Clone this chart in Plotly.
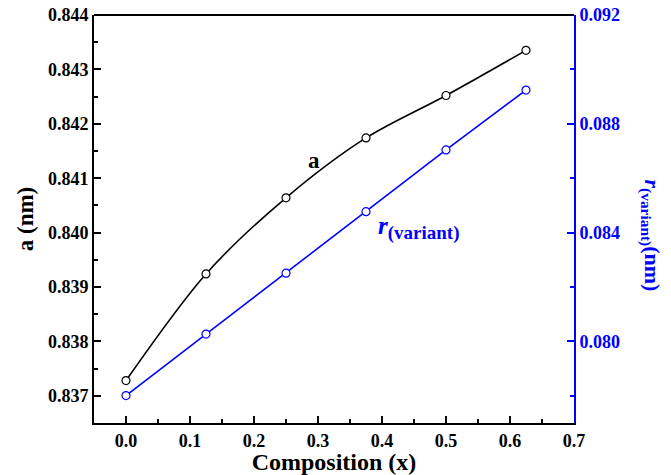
import plotly.graph_objects as go

composition = [0.0, 0.125, 0.25, 0.375, 0.5, 0.625]
lattice_a = [0.83728, 0.83924, 0.84064, 0.84174, 0.84252, 0.84335]
r_variant = [0.07801, 0.08027, 0.08251, 0.08477, 0.08704, 0.08924]

FONT = "Liberation Serif"
BLUE = "#0000ff"

fig = go.Figure()
fig.add_trace(go.Scatter(
    x=composition, y=lattice_a, mode="lines+markers",
    line=dict(color="black", width=1.6, shape="spline", smoothing=0.9),
    marker=dict(symbol="circle", size=8, color="white", line=dict(width=1.2, color="black")),
    showlegend=False, yaxis="y"))
fig.add_trace(go.Scatter(
    x=composition, y=r_variant, mode="lines+markers",
    line=dict(color=BLUE, width=1.6),
    marker=dict(symbol="circle", size=8, color="white", line=dict(width=1.2, color=BLUE)),
    showlegend=False, yaxis="y2"))

fig.update_layout(
    width=671, height=475,
    margin=dict(l=94, r=97, t=15, b=52),
    paper_bgcolor="white", plot_bgcolor="white",
    font=dict(family=FONT, size=18, color="black"),
    xaxis=dict(
        range=[-0.05, 0.7], dtick=0.1, tick0=0, tickformat=".1f",
        ticks="inside", ticklen=7, tickwidth=1.5, tickcolor="black",
        minor=dict(ticks="inside", ticklen=4, dtick=0.05, tickcolor="black", tickwidth=1.5),
        showline=True, linecolor="black", linewidth=2, mirror=False,
        showgrid=False, zeroline=False, automargin=False,
        tickfont=dict(family=FONT, size=18, color="black", weight="bold"),
        title=dict(text="<b>Composition (x)</b>", font=dict(family=FONT, size=24, color="black"), standoff=1),
    ),
    yaxis=dict(
        range=[0.8365, 0.844], dtick=0.001, tick0=0.837, tickformat=".3f",
        ticks="inside", ticklen=7, tickwidth=1.5, tickcolor="black",
        minor=dict(ticks="inside", ticklen=4, dtick=0.0005, tickcolor="black", tickwidth=1.5),
        showline=True, linecolor="black", linewidth=2,
        showgrid=False, zeroline=False, automargin=False,
        tickfont=dict(family=FONT, size=18, color="black", weight="bold"),
        title=dict(text="<b>a (nm)</b>", font=dict(family=FONT, size=23, color="black"), standoff=8),
    ),
    yaxis2=dict(
        overlaying="y", side="right",
        range=[0.077, 0.092], dtick=0.004, tick0=0.0, tickformat=".3f",
        ticks="inside", ticklen=7, tickwidth=1.5, tickcolor=BLUE,
        minor=dict(ticks="inside", ticklen=4, dtick=0.002, tickcolor=BLUE, tickwidth=1.5),
        showline=True, linecolor=BLUE, linewidth=2,
        showgrid=False, zeroline=False, automargin=False,
        tickfont=dict(family=FONT, size=18, color=BLUE, weight="bold"),
    ),
    shapes=[dict(type="line", xref="paper", yref="paper", x0=0, x1=1, y0=1, y1=1,
                 line=dict(color="black", width=2))],
    annotations=[
        dict(text="<b>a</b>", x=0.293, y=0.84133, xref="x", yref="y", showarrow=False,
             font=dict(family=FONT, size=23, color="black")),
        dict(text="<b><i>r</i><sub><span style='font-size:19px'>(variant)</span></sub></b>",
             x=0.39, y=0.08417, xref="x", yref="y2",
             xanchor="left", yanchor="middle", showarrow=False,
             font=dict(family=FONT, size=25, color=BLUE)),
        dict(text="<b><i>r</i><sub>(variant)</sub>(nm)</b>", x=1.16, y=0.46, xref="paper", yref="paper",
             textangle=90, showarrow=False, xanchor="center", yanchor="middle",
             font=dict(family=FONT, size=22, color=BLUE)),
    ],
)

fig.write_html("out.html", config={"displayModeBar": False},
               post_script="document.body.style.margin='0';document.body.style.overflow='hidden';")
